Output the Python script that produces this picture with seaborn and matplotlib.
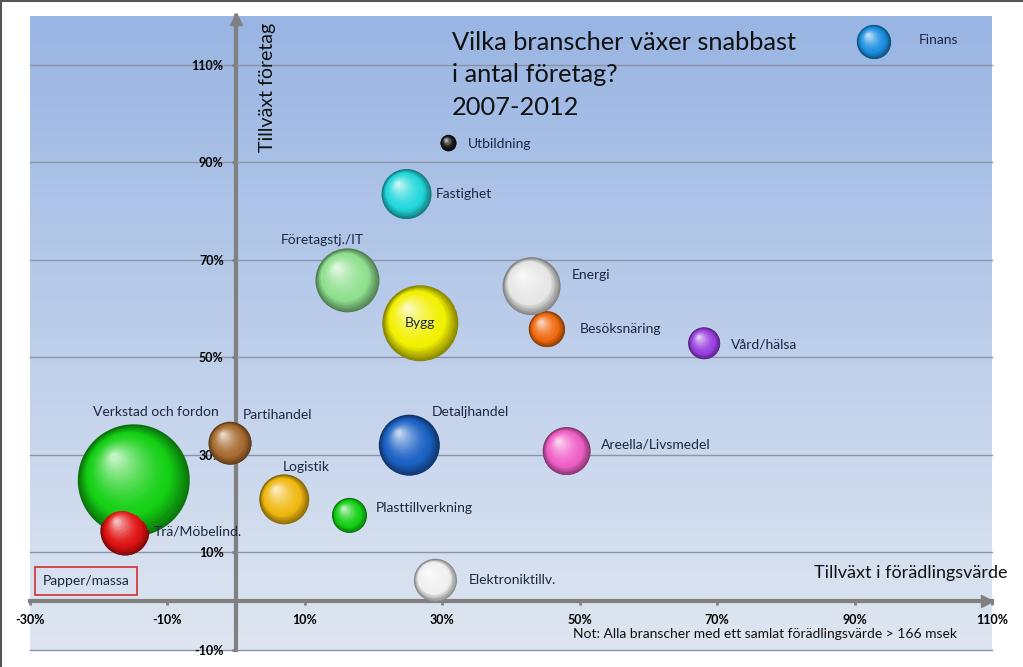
import numpy as np
import pandas as pd
import seaborn as sns
import matplotlib.pyplot as plt
import matplotlib.colors as mcolors
from matplotlib.lines import Line2D
from matplotlib.transforms import offset_copy
from matplotlib.ticker import FuncFormatter

# data
bransch = ["Finans", "Utbildning", "Fastighet", "Företagstj./IT", "Bygg", "Energi",
           "Besöksnäring", "Vård/hälsa", "Verkstad och fordon", "Partihandel",
           "Detaljhandel", "Areella/Livsmedel", "Logistik", "Plasttillverkning",
           "Trä/Möbelind.", "Elektroniktillv."]
forad_vaxt = [92.8, 30.9, 24.8, 16.2, 26.8, 43.0, 45.2, 68.1, -14.9, -0.9,
              25.2, 48.1, 7.0, 16.5, -16.2, 29.0]
foretag_vaxt = [114.7, 94.0, 83.5, 65.8, 57.0, 64.6, 55.8, 52.9, 24.8, 32.4,
                32.0, 30.8, 20.9, 17.6, 14.4, 4.3]
storlek = [289, 64, 625, 1024, 1444, 841, 324, 256, 3136, 462,
           930, 576, 625, 306, 600, 462]
farger = ["#1a8fe0", "#151515", "#22d8dc", "#8ee08e", "#f2f000", "#e6e6e6",
          "#f06a10", "#9a40e0", "#14d014", "#a86c30", "#1b62c4", "#f060c8",
          "#f0b810", "#14d014", "#e01212", "#f0f0f0"]
x_ticks = [-30, -10, 10, 30, 50, 70, 90, 110]
y_ticks = [-10, 10, 30, 50, 70, 90, 110]

# label offsets (points) relative to each bubble centre
label_off = [(32, 1), (14, -1), (21, 0), (-48, 29), (0, 0), (29, 8),
             (24, 0), (19, -1), (-29, 49), (9, 20), (16, 24), (25, 5),
             (-1, 23), (19, 5), (21, 0), (24, 0)]

df = pd.DataFrame({"bransch": bransch, "x": forad_vaxt, "y": foretag_vaxt,
                   "storlek": storlek})

plt.rcParams["font.family"] = ["Lato", "DejaVu Sans"]

fig = plt.figure(figsize=(10.23, 6.67), dpi=100)
fig.patch.set_facecolor("white")
ax = fig.add_axes([30 / 1023, 17 / 667, 962 / 1023, 634 / 667])

# background gradient
grad = np.linspace(0, 1, 256).reshape(-1, 1)
cmap = mcolors.LinearSegmentedColormap.from_list("bg", ["#dfe6f1", "#99b5e3"])
ax.imshow(grad, extent=(-30, 110, -10, 120), origin="lower", aspect="auto",
          cmap=cmap, zorder=0)


def lighten(c, t):
    c = np.array(mcolors.to_rgb(c))
    return tuple(c + (1 - c) * t)


def darken(c, t):
    return tuple(np.array(mcolors.to_rgb(c)) * (1 - t))


smax = 6500
s_vals = smax * np.array(storlek) / max(storlek)

# base (dark rim) layer through seaborn
pal_dark = {b: darken(c, 0.45) for b, c in zip(bransch, farger)}
sns.scatterplot(data=df, x="x", y="y", hue="bransch", palette=pal_dark,
                size="storlek", sizes=(0, smax), size_norm=(0, max(storlek)),
                linewidth=0, legend=False, ax=ax, zorder=3)

# shading layers to give the sphere look
n_layers = 40
for i in range(len(df)):
    r_pt = np.sqrt(s_vals[i]) / 2
    c = farger[i]
    for k in range(1, n_layers + 1):
        f = 1 - k / (n_layers + 3)
        if f > 0.75:
            col = darken(c, 0.45 * (f - 0.75) / 0.25)
        else:
            col = lighten(c, 0.85 * ((0.75 - f) / 0.75) ** 1.5)
        tr = offset_copy(ax.transData, fig=fig, x=-(1 - f) * r_pt * 0.38,
                         y=(1 - f) * r_pt * 0.45, units="points")
        ax.scatter([df.x[i]], [df.y[i]], s=s_vals[i] * f ** 2, color=col,
                   linewidths=0, transform=tr, zorder=3 + k * 0.001)

# bubble labels
for i, b in enumerate(bransch):
    dx, dy = label_off[i]
    ax.annotate(b, (df.x[i], df.y[i]), xytext=(dx, dy), textcoords="offset points",
                ha="center" if b == "Bygg" else "left", va="center",
                fontsize=10, color="#1c2740", zorder=5)

# axes through origin
ax.set_xlim(-30, 110)
ax.set_ylim(-10, 120)
for s in ["top", "right"]:
    ax.spines[s].set_visible(False)
for s in ["left", "bottom"]:
    ax.spines[s].set_position(("data", 0))
    ax.spines[s].set_color("#808080")
    ax.spines[s].set_linewidth(3)
ax.plot(0.995, 0, ">", color="#808080", markersize=8, transform=ax.get_yaxis_transform(),
        clip_on=False, zorder=2.6)
ax.plot(0, 0.995, "^", color="#808080", markersize=8, transform=ax.get_xaxis_transform(),
        clip_on=False, zorder=2.6)

ax.set_xticks(x_ticks)
ax.set_yticks(y_ticks)
pct = FuncFormatter(lambda v, p: f"{v:.0f}%")
ax.xaxis.set_major_formatter(pct)
ax.yaxis.set_major_formatter(pct)
ax.tick_params(length=3, width=2, color="#808080", labelsize=9, pad=6)
for lab in ax.get_xticklabels() + ax.get_yticklabels():
    lab.set_fontweight("bold")
ax.yaxis.grid(True, color="#8a94a6", linewidth=1)
for gl in ax.get_ygridlines():
    gl.set_clip_on(False)
ax.xaxis.grid(False)
ax.set_axisbelow(False)
ax.set_xlabel("")
ax.set_ylabel("")

# texts
ax.text(0.4387, 0.977, "Vilka branscher växer snabbast\ni antal företag?\n2007-2012",
        transform=ax.transAxes, ha="left", va="top", fontsize=18.3, color="#111111",
        linespacing=1.5, zorder=5)
ax.text(0.2474, 0.888, "Tillväxt företag", transform=ax.transAxes, rotation=90,
        ha="center", va="center", fontsize=14, color="#111111", zorder=5)
ax.text(1.0156, 0.1215, "Tillväxt i förädlingsvärde", transform=ax.transAxes,
        ha="right", va="center", fontsize=13, color="#111111", clip_on=False, zorder=5)
ax.text(0.5645, 0.0252, "Not: Alla branscher med ett samlat förädlingsvärde > 166 msek",
        transform=ax.transAxes, ha="left", va="center", fontsize=10, color="#111111",
        zorder=5)
ax.text(0.0135, 0.109, "Papper/massa", transform=ax.transAxes, ha="left", va="center",
        fontsize=10, color="#1c2740", zorder=5,
        bbox=dict(boxstyle="square,pad=0.55", facecolor="none", edgecolor="#d03030",
                  linewidth=1.2))

# frame lines at top and left of the picture
fig.add_artist(Line2D([0, 1], [0.9985, 0.9985], color="#555555", linewidth=1.5))
fig.add_artist(Line2D([0.001, 0.001], [0, 1], color="#555555", linewidth=1.5))

fig.savefig("out.png", dpi=100)
